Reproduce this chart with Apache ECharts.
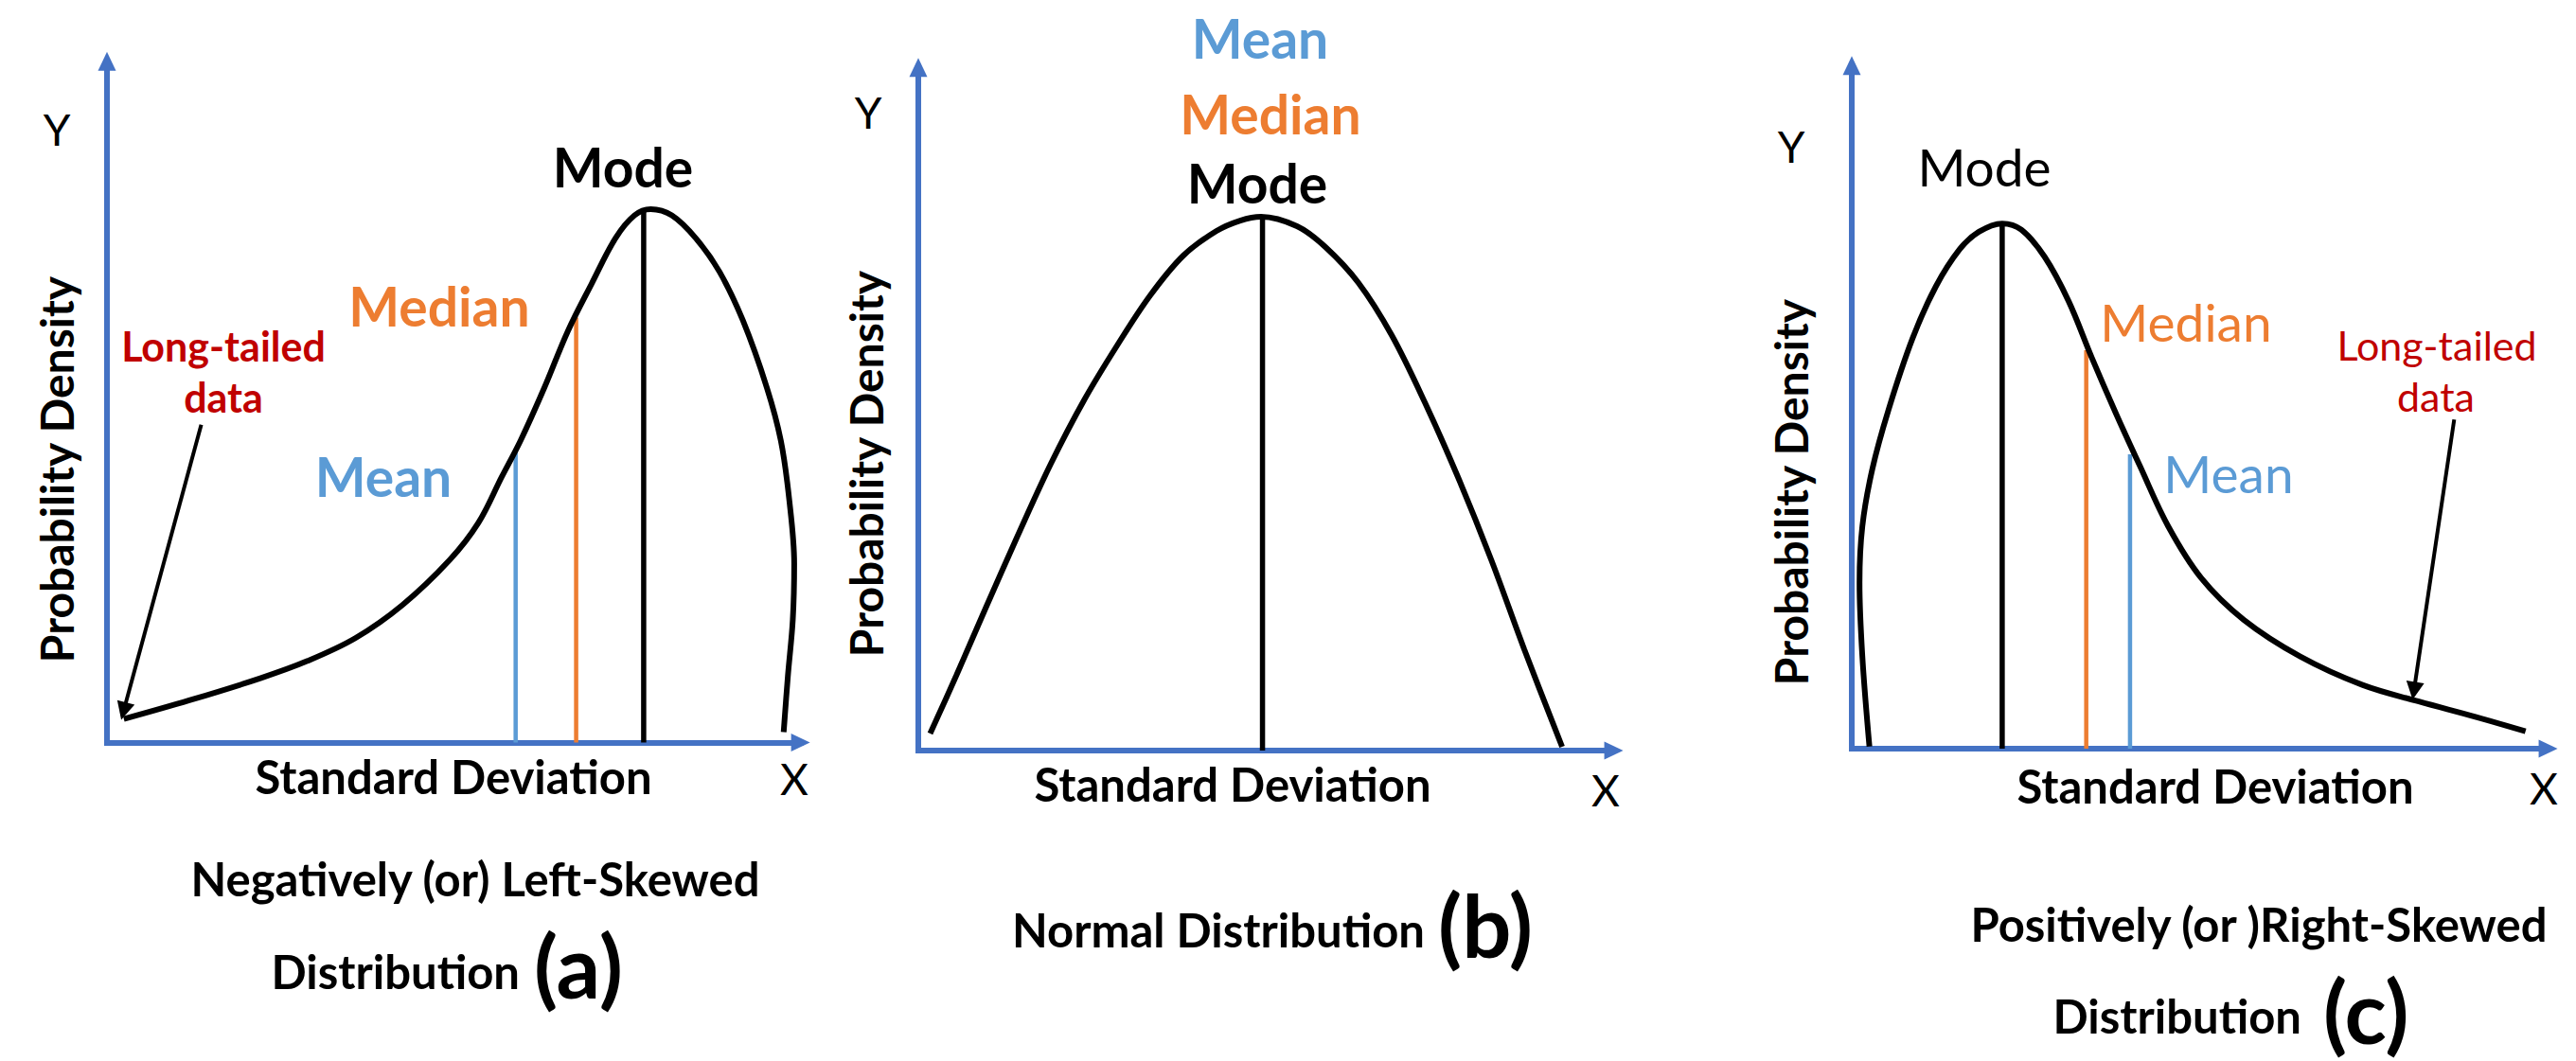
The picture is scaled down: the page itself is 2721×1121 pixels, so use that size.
<!DOCTYPE html>
<html><head><meta charset="utf-8">
<script src="https://cdn.jsdelivr.net/npm/echarts@6/dist/echarts.min.js"></script>
<style>html,body{margin:0;padding:0;background:#fff}#c{width:2721px;height:1121px}
#c text{font-variant-ligatures:none;font-feature-settings:"liga" 0,"clig" 0}</style>
</head><body><div id="c"></div>
<script>
// ---- data (normalised units: x = standard deviation scale, y = density scale, 0..~100) ----
const curveA = [[2.4,3.4],[11.7,6.1],[21.8,9.3],[28.5,11.8],[35.3,15.1],[42.0,19.9],[48.7,26.4],[52.8,31.8],[56.1,38.4],[58.8,43.7],[62.2,51.4],[65.5,59.5],[68.9,66.4],[72.3,73.0],[75.0,76.3],[77.3,77.2],[80.3,76.3],[83.7,73.0],[87.1,68.1],[90.4,61.1],[93.8,51.4],[95.8,43.7],[97.0,35.1],[97.7,25.9],[97.5,17.8],[96.8,9.6],[96.2,1.5]];
const curveB = [[1.68,2.46],[5.37,10.79],[9.40,20.22],[14.09,31.01],[18.79,41.39],[23.49,50.55],[28.19,58.47],[32.89,65.71],[37.58,71.45],[42.28,75.0],[45.64,76.5],[48.59,77.05],[53.69,75.68],[57.72,72.68],[62.42,67.49],[67.11,59.97],[71.81,50.27],[76.51,39.48],[81.21,27.6],[85.91,14.62],[91.28,0.55]];
const curveC = [[2.5,0.3],[1.5,13.3],[1.1,24.0],[1.5,32.1],[2.9,40.3],[5.2,48.9],[8.6,59.2],[11.9,66.7],[15.3,72.1],[18.0,74.6],[21.3,75.8],[24.0,74.9],[27.3,71.0],[30.7,64.6],[34.0,56.4],[37.4,48.4],[40.8,40.8],[44.8,32.1],[49.5,24.6],[55.5,18.6],[63.5,13.3],[72.3,9.2],[80.3,6.8],[88.3,4.6],[95.4,2.5]];

const markerNames = ['Mean', 'Median', 'Mode'];
const markerXA = [58.1, 66.7, 76.3];
const markerTopA = [42.0, 61.5, 77.0];
const markerXB = [48.8, 48.8, 48.8];
const markerTopB = [77.0, 77.0, 77.0];
const markerXC = [39.4, 33.2, 21.3];
const markerTopC = [42.5, 57.5, 75.8];

const arrowA = [[13.4, 46.0], [2.36, 4.55]];
const arrowC = [[85.3, 47.5], [79.6, 8.35]];

const axisMax = 98.6;

// ---- styling / layout ----
const FONT = 'Lato, "Open Sans", sans-serif';
const AXIS_BLUE = '#4472C4';
const markerColors = ['#5B9BD5', '#ED7D31', '#000000'];
const RED = '#C00000';

const panels = [
  {left: 113, bottom: 784.5, sx: 7.43, sy: 7.30, curve: curveA, mx: markerXA, mt: markerTopA, arrow: arrowA},
  {left: 970, bottom: 793, sx: 7.45, sy: 7.32, curve: curveB, mx: markerXB, mt: markerTopB, arrow: null},
  {left: 1956, bottom: 791, sx: 7.46, sy: 7.32, curve: curveC, mx: markerXC, mt: markerTopC, arrow: arrowC}
];

const grids = [], xAxes = [], yAxes = [], series = [];
const axisBase = {
  type: 'value', min: 0, max: axisMax,
  axisLine: {show: true, onZero: false, symbol: ['none', 'triangle'], symbolSize: [19, 20],
    lineStyle: {color: AXIS_BLUE, width: 6, cap: 'square'}},
  axisTick: {show: false}, axisLabel: {show: false}, splitLine: {show: false}
};
panels.forEach((p, i) => {
  const w = axisMax * p.sx, h = axisMax * p.sy;
  grids.push({left: p.left, top: p.bottom - h, width: w, height: h, containLabel: false});
  xAxes.push(Object.assign({gridIndex: i}, JSON.parse(JSON.stringify(axisBase))));
  yAxes.push(Object.assign({gridIndex: i}, JSON.parse(JSON.stringify(axisBase))));
  // vertical marker lines (Mean, Median, Mode)
  const order = i === 1 ? [2] : [0, 1, 2];
  order.forEach(k => {
    series.push({
      type: 'line', name: markerNames[k], xAxisIndex: i, yAxisIndex: i,
      data: [[p.mx[k], 0], [p.mx[k], p.mt[k]]], symbol: 'none', silent: true, clip: false,
      lineStyle: {color: markerColors[k], width: k === 2 ? 5.5 : 4.5}, z: 2
    });
  });
  const s = {
    type: 'line', name: 'density', xAxisIndex: i, yAxisIndex: i, data: p.curve,
    smooth: 0.35, symbol: 'none', silent: true, clip: false,
    lineStyle: {color: '#000', width: 6}, z: 3
  };
  if (p.arrow) {
    s.markLine = {
      silent: true, symbol: ['none', 'triangle'], symbolSize: [19, 19], label: {show: false},
      lineStyle: {color: '#000', width: 4, type: 'solid'},
      emphasis: {disabled: true},
      data: [[{coord: p.arrow[0]}, {coord: p.arrow[1]}]]
    };
  }
  series.push(s);
});

// text: [text, x, y, size, weight, color, rotate, align]
const texts = [
  // panel a
  ['Y', 60, 136, 46, 'normal', '#000', 0, 'center'],
  ['Probability Density', 59, 496, 48, 'bold', '#000', 90, 'center'],
  ['Mode', 658, 176, 57, 'bold', '#000', 0, 'center'],
  ['Median', 464, 323, 57, 'bold', markerColors[1], 0, 'center'],
  ['Mean', 405, 503, 57, 'bold', markerColors[0], 0, 'center'],
  ['Long-tailed', 236, 365, 43, 'bold', RED, 0, 'center'],
  ['data', 236, 419, 43, 'bold', RED, 0, 'center'],
  ['Standard Deviation', 479, 820, 49, 'bold', '#000', 0, 'center'],
  ['X', 839, 822, 46, 'normal', '#000', 0, 'center'],
  ['Negatively (or) Left-Skewed', 502, 928, 49, 'bold', '#000', 0, 'center'],
  ['Distribution', 549, 1026, 49, 'bold', '#000', 0, 'right'],
  ['(a)', 564, 1019, 92, 'bold', '#000', 0, 'left'],
  // panel b
  ['Y', 917, 118, 46, 'normal', '#000', 0, 'center'],
  ['Probability Density', 914, 490, 48, 'bold', '#000', 90, 'center'],
  ['Mean', 1331, 40, 57, 'bold', markerColors[0], 0, 'center'],
  ['Median', 1342, 120, 57, 'bold', markerColors[1], 0, 'center'],
  ['Mode', 1328, 193, 57, 'bold', '#000', 0, 'center'],
  ['Standard Deviation', 1302, 828, 49, 'bold', '#000', 0, 'center'],
  ['X', 1696, 834, 46, 'normal', '#000', 0, 'center'],
  ['Normal Distribution', 1505, 982, 49, 'bold', '#000', 0, 'right'],
  ['(b)', 1519, 976, 92, 'bold', '#000', 0, 'left'],
  // panel c
  ['Y', 1892, 154, 46, 'normal', '#000', 0, 'center'],
  ['Probability Density', 1891, 520, 48, 'bold', '#000', 90, 'center'],
  ['Mode', 2096, 176, 55, 'normal', '#000', 0, 'center'],
  ['Median', 2309, 340, 55, 'normal', markerColors[1], 0, 'center'],
  ['Mean', 2354, 500, 55, 'normal', markerColors[0], 0, 'center'],
  ['Long-tailed', 2574, 364, 43, 'normal', RED, 0, 'center'],
  ['data', 2573, 418, 43, 'normal', RED, 0, 'center'],
  ['Standard Deviation', 2340, 830, 49, 'bold', '#000', 0, 'center'],
  ['X', 2687, 832, 46, 'normal', '#000', 0, 'center'],
  ['Positively (or )Right-Skewed', 2386, 976, 49, 'bold', '#000', 0, 'center'],
  ['Distribution', 2431, 1073, 49, 'bold', '#000', 0, 'right'],
  ['(c)', 2454, 1067, 92, 'bold', '#000', 0, 'left']
];
const graphic = texts.map(t => ({
  type: 'text', x: t[1], y: t[2], rotation: t[6] * Math.PI / 180, silent: true, z: 10,
  style: {text: t[0], fill: t[5], font: t[4] + ' ' + t[3] + 'px ' + FONT, align: t[7], verticalAlign: 'middle'}
}));

const chart = echarts.init(document.getElementById('c'), null, {renderer: 'svg'});
chart.setOption({
  animation: false, backgroundColor: '#fff',
  grid: grids, xAxis: xAxes, yAxis: yAxes, series: series, graphic: graphic
});
</script></body></html>
